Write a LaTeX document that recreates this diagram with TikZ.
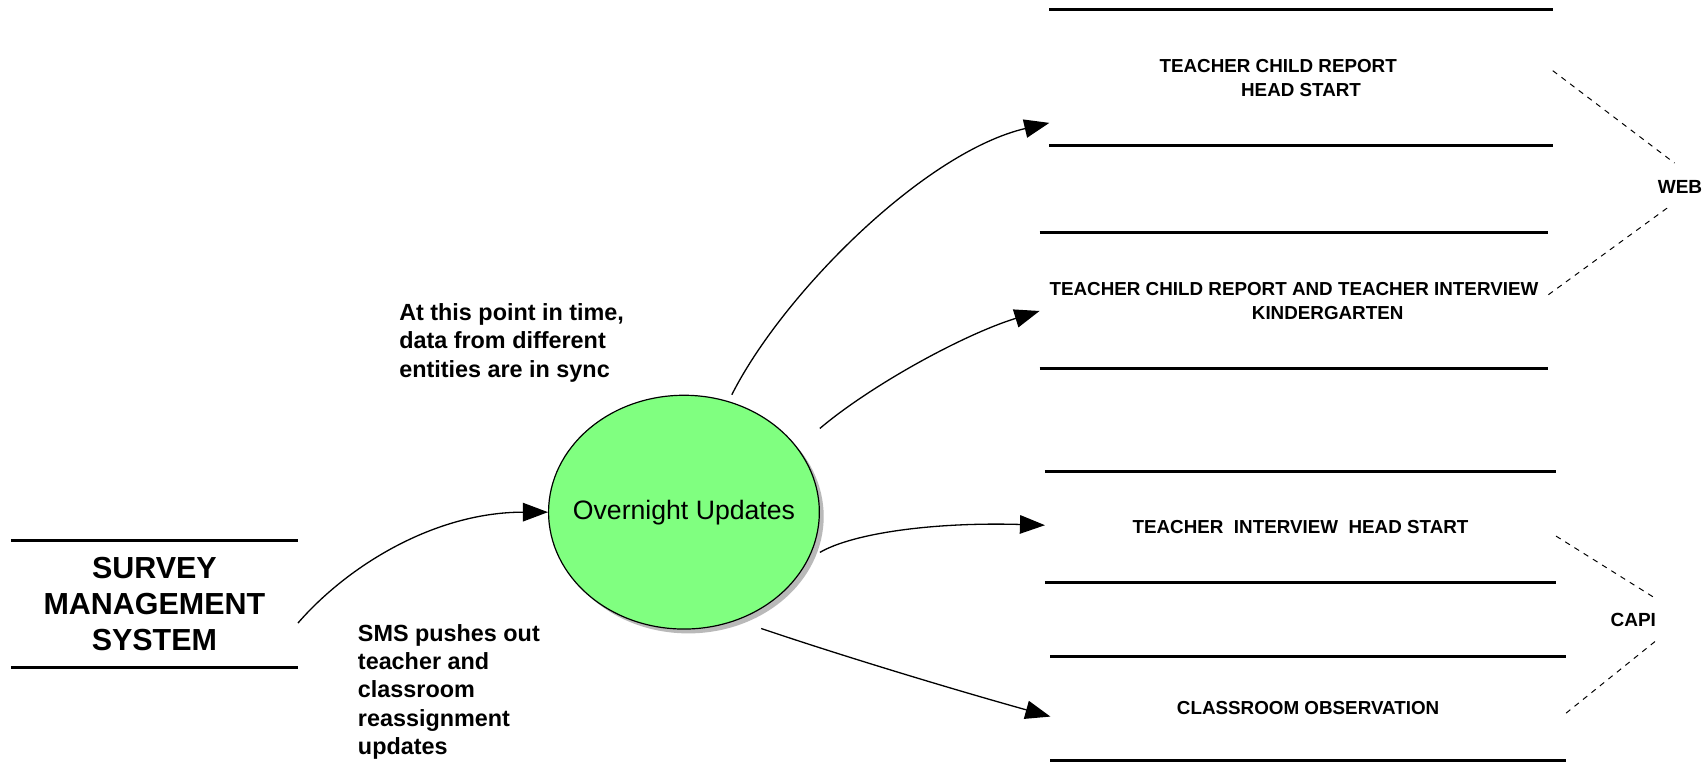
\documentclass[tikz,border=0pt]{standalone}
\usepackage{fontspec}
\setmainfont{Liberation Sans}
\usetikzlibrary{arrows.meta,shapes.geometric,calc}
\definecolor{ovgreen}{HTML}{80FF80}
\begin{document}
\begin{tikzpicture}[x=1pt,y=-1pt,
  boxline/.style={line width=2.8pt},
  conn/.style={line width=1.2pt,-{Triangle[length=23pt,width=17pt]}},
  dashconn/.style={line width=0.9pt,dash pattern=on 5pt off 5pt},
  store/.style={inner sep=0pt,outer sep=0pt,align=center,font=\fontsize{17.3}{22}\selectfont\bfseries},
  note/.style={inner sep=0pt,align=left,anchor=north west,font=\fontsize{21.5}{26}\selectfont\bfseries},
  tag/.style={inner sep=0pt,font=\fontsize{17.5}{22}\selectfont\bfseries},
  bubble/.style={ellipse,minimum width=249pt,minimum height=215pt,inner sep=0pt}
]
\useasboundingbox (0,0) rectangle (1568,700.8);

% Survey management system
\node[inner sep=0pt,outer sep=0pt,align=center,minimum width=264pt,minimum height=117pt,
  font=\fontsize{28}{33.5}\selectfont\bfseries] (sms) at (142,555.5) {SURVEY\\MANAGEMENT\\SYSTEM};
\draw[boxline] (sms.north west) -- (sms.north east);
\draw[boxline] (sms.south west) -- (sms.south east);

% process
\node[bubble,fill=gray!55] (shadow) at (633,475) {};
\node[bubble,draw,line width=1.1pt,fill=ovgreen] (ou) at (629,471) {};
\node[inner sep=0pt,font=\fontsize{24.5}{28}\selectfont] (oulabel) at (ou.center) {Overnight Updates};

% data stores
\node[store,minimum width=463pt,minimum height=125pt] (b1) at (1196.5,71.5)
  {TEACHER CHILD REPORT\hspace*{42pt}\\HEAD START};
\node[store,minimum width=468pt,minimum height=125pt] (b2) at (1190,276.5)
  {TEACHER CHILD REPORT AND TEACHER INTERVIEW\\\hspace*{62pt}KINDERGARTEN};
\node[store,minimum width=470pt,minimum height=102pt] (b3) at (1196,485)
  {TEACHER\ \ INTERVIEW\ \ HEAD START};
\node[store,minimum width=474pt,minimum height=95pt] (b4) at (1203,651.5)
  {CLASSROOM OBSERVATION};
\foreach \b in {b1,b2,b3,b4}{
  \draw[boxline] (\b.north west) -- (\b.north east);
  \draw[boxline] (\b.south west) -- (\b.south east);
}

% notes
\node[note] (n1) at (367,279) {At this point in time,\\data from different\\entities are in sync};
\node[note] (n2) at (329,574) {SMS pushes out\\teacher and\\classroom\\reassignment\\updates};

% mode labels
\node[tag] (web) at (1545,172) {WEB};
\node[tag] (capi) at (1502,570) {CAPI};

% connectors
\draw[conn] ($(sms.east)+(0,17.5)$) .. controls (320,520) and (400,471) .. (ou.west);
\draw[conn] ($(ou.center)+(44,-108)$) .. controls (720,270) and (850,140) .. ($(b1.south west)+(0,-21)$);
\draw[conn] ($(ou.center)+(125,-77)$) .. controls (800,355) and (885,308) .. ($(b2.west)+(0,9.5)$);
\draw[conn] ($(ou.center)+(125,37)$) .. controls (785,490) and (860,480) .. ($(b3.west)+(0,-2)$);
\draw[conn] ($(ou.center)+(71,107)$) .. controls (780,605) and (880,635) .. ($(b4.west)+(0,7.5)$);

\draw[dashconn] ($(b1.east)+(0,-6.5)$) -- ($(web.center)+(-5,-22)$);
\draw[dashconn] ($(b2.east)+(0,-5.5)$) -- ($(web.center)+(-10,18)$);
\draw[dashconn] ($(b3.east)+(0,8)$) -- ($(capi.center)+(20,-20)$);
\draw[dashconn] ($(capi.center)+(20,20)$) -- ($(b4.east)+(0,4.5)$);
\end{tikzpicture}
\end{document}
